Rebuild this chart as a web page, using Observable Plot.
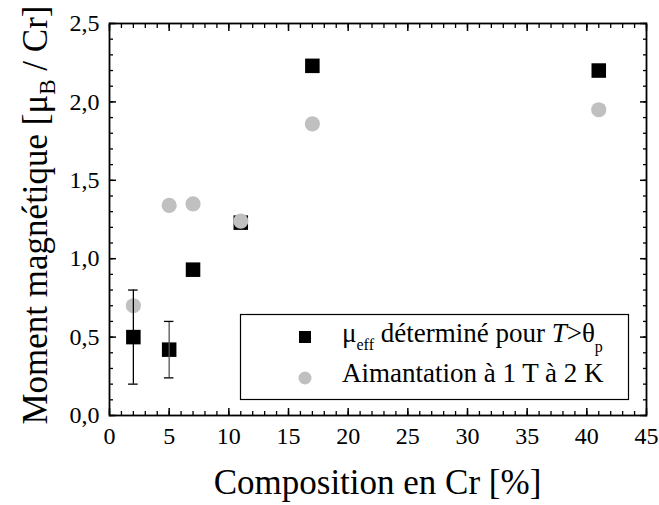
<!DOCTYPE html>
<html><head><meta charset="utf-8">
<script src="https://cdn.jsdelivr.net/npm/d3@7"></script>
<script src="https://cdn.jsdelivr.net/npm/@observablehq/plot@0.6"></script>
<style>
body{margin:0;background:#fff}
#chart{position:relative;width:659px;height:505px}
#chart svg, #chart svg text, #chart svg tspan, #chart svg g {font-family:'Liberation Serif','Times New Roman',serif !important;}
#chart svg g[aria-label$="tick label"]{font-size:24px !important;}
</style></head><body><div id="chart"></div>
<script>
// data
const compositionCr = [2, 5, 7, 11, 17, 41];
const muEff = [0.50, 0.42, 0.93, 1.23, 2.23, 2.20];
const aimantation = [0.70, 1.34, 1.35, 1.24, 1.86, 1.95];
const errX = [2, 5];
const errLow = [0.20, 0.24];
const errHigh = [0.80, 0.60];
const errColor = ["#000000", "#555555"];
const xTicks = [0, 5, 10, 15, 20, 25, 30, 35, 40, 45];
const xTickLabels = ["0", "5", "10", "15", "20", "25", "30", "35", "40", "45"];
const yTicks = [0, 0.5, 1.0, 1.5, 2.0, 2.5];
const yTickLabels = ["0,0", "0,5", "1,0", "1,5", "2,0", "2,5"];
const xMinor = d3.range(0, 46, 1);
const yMinor = d3.range(0, 26, 1).map(i => i / 10);

const squares = compositionCr.map((x, i) => ({x, y: muEff[i]}));
const circles = compositionCr.map((x, i) => ({x, y: aimantation[i]}));
const errs = errX.map((x, i) => ({x, lo: errLow[i], hi: errHigh[i], c: errColor[i]}));

const font = "'Liberation Serif', 'Times New Roman', serif";
const noText = () => "";

const plot = Plot.plot({
  width: 659, height: 505,
  marginLeft: 109, marginRight: 13, marginTop: 23, marginBottom: 90,
  style: {fontFamily: font, fontSize: "24px", color: "black", background: "white", overflow: "visible"},
  x: {domain: [0, 45]},
  y: {domain: [0, 2.5]},
  marks: [
    // inward minor ticks
    Plot.axisX(xMinor, {anchor: "bottom", tickSize: -4, strokeWidth: 1.3, tickFormat: noText, label: null}),
    Plot.axisX(xMinor, {anchor: "top", tickSize: -4, strokeWidth: 1.3, tickFormat: noText, label: null}),
    Plot.axisY(yMinor, {anchor: "left", tickSize: -4, strokeWidth: 1.3, tickFormat: noText, label: null}),
    Plot.axisY(yMinor, {anchor: "right", tickSize: -4, strokeWidth: 1.3, tickFormat: noText, label: null}),
    // inward major ticks
    Plot.axisX(xTicks, {anchor: "bottom", tickSize: -7, strokeWidth: 1.5, tickFormat: noText, label: null}),
    Plot.axisX(xTicks, {anchor: "top", tickSize: -7, strokeWidth: 1.5, tickFormat: noText, label: null}),
    Plot.axisY(yTicks, {anchor: "left", tickSize: -7, strokeWidth: 1.5, tickFormat: noText, label: null}),
    Plot.axisY(yTicks, {anchor: "right", tickSize: -7, strokeWidth: 1.5, tickFormat: noText, label: null}),
    // labels
    Plot.axisX(xTicks, {anchor: "bottom", tickSize: 0, tickPadding: 11, fontSize: 24, fontFamily: font,
      tickFormat: d => xTickLabels[xTicks.indexOf(d)], label: null}),
    Plot.axisY(yTicks, {anchor: "left", tickSize: 0, tickPadding: 10, fontSize: 24, fontFamily: font,
      tickFormat: d => yTickLabels[yTicks.indexOf(d)], label: null}),
    Plot.frame({stroke: "black", strokeWidth: 1.8}),
    // data
    Plot.dot(squares, {x: "x", y: "y", symbol: "square", r: 8.2, fill: "black", stroke: "none"}),
    Plot.dot(circles, {x: "x", y: "y", symbol: "circle", r: 7.6, fill: "#c0c0c0", stroke: "none"}),
    Plot.ruleX(errs, {x: "x", y1: "lo", y2: "hi", stroke: "c", strokeWidth: 1.3}),
    Plot.ruleY(errs, {y: "hi", x1: d => d.x - 0.4, x2: d => d.x + 0.4, stroke: "black", strokeWidth: 1.3}),
    Plot.ruleY(errs, {y: "lo", x1: d => d.x - 0.4, x2: d => d.x + 0.4, stroke: "black", strokeWidth: 1.3})
  ]
});

const svg = d3.select(plot);

// x title
svg.append("text")
  .attr("x", 377.5).attr("y", 494)
  .attr("text-anchor", "middle")
  .style("font-size", "35px").attr("fill", "black")
  .text("Composition en Cr [%]");

// y title
const yt = svg.append("text")
  .attr("transform", "translate(47,215) rotate(-90)")
  .attr("text-anchor", "middle")
  .style("font-size", "35px").attr("fill", "black");
yt.append("tspan").text("Moment magnétique [μ");
yt.append("tspan").style("font-size", "23px").attr("dy", 8).text("B");
yt.append("tspan").attr("dy", -8).text(" / Cr]");

// legend
const lg = svg.append("g").attr("fill", "black").attr("text-anchor", "start").style("font-size", "27px");
lg.append("rect").attr("x", 240.5).attr("y", 314.5).attr("width", 388).attr("height", 85)
  .attr("fill", "white").attr("stroke", "black").attr("stroke-width", 1.2);
lg.append("rect").attr("x", 299).attr("y", 331).attr("width", 12).attr("height", 12).attr("fill", "black");
lg.append("circle").attr("cx", 305).attr("cy", 378).attr("r", 6.5).attr("fill", "#c0c0c0");
const t1 = lg.append("text").attr("x", 342).attr("y", 342).attr("text-anchor", "start").style("font-size", "27px");
t1.append("tspan").text("μ");
t1.append("tspan").style("font-size", "16px").attr("dy", 8).text("eff");
t1.append("tspan").attr("dy", -8).text(" déterminé pour ");
t1.append("tspan").style("font-style", "italic").text("T");
t1.append("tspan").text(">θ");
t1.append("tspan").style("font-size", "16px").attr("dy", 10).text("p");
lg.append("text").attr("x", 342).attr("y", 382).attr("text-anchor", "start").style("font-size", "27px")
  .text("Aimantation à 1 T à 2 K");

document.getElementById("chart").appendChild(plot);
</script>
</body></html>
